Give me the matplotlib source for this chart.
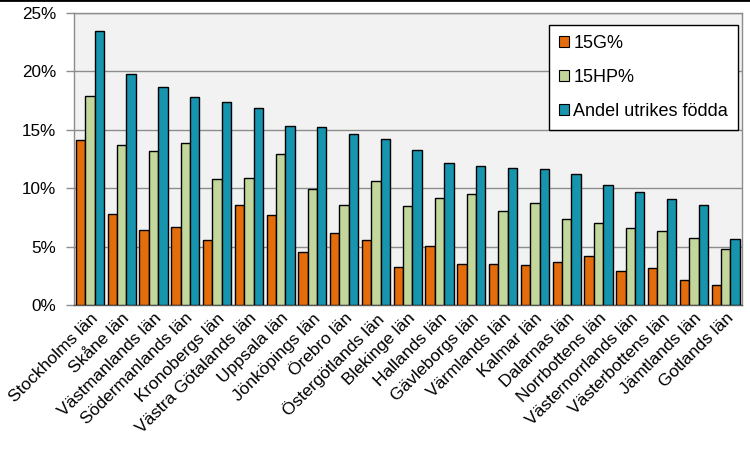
import matplotlib
matplotlib.use("Agg")
import matplotlib.pyplot as plt
import numpy as np
from matplotlib.ticker import FuncFormatter, MultipleLocator

plt.rcParams['font.family'] = ['Liberation Sans', 'DejaVu Sans']

categories = ["Stockholms län", "Skåne län", "Västmanlands län", "Södermanlands län",
              "Kronobergs län", "Västra Götalands län", "Uppsala län", "Jönköpings län",
              "Örebro län", "Östergötlands län", "Blekinge län", "Hallands län",
              "Gävleborgs län", "Värmlands län", "Kalmar län", "Dalarnas län",
              "Norrbottens län", "Västernorrlands län", "Västerbottens län",
              "Jämtlands län", "Gotlands län"]
g15 = [14.1, 7.77, 6.4, 6.66, 5.54, 8.54, 7.68, 4.51, 6.14, 5.54, 3.23, 5.03,
       3.49, 3.49, 3.4, 3.66, 4.17, 2.89, 3.14, 2.12, 1.69]
hp15 = [17.9, 13.68, 13.17, 13.85, 10.77, 10.86, 12.91, 9.91, 8.54, 10.6, 8.46, 9.14,
        9.49, 8.03, 8.71, 7.34, 7.0, 6.57, 6.31, 5.71, 4.77]
utrikes = [23.45, 19.77, 18.65, 17.8, 17.37, 16.85, 15.31, 15.23, 14.62, 14.2, 13.25,
           12.14, 11.88, 11.71, 11.63, 11.2, 10.26, 9.66, 9.06, 8.54, 5.63]
series_names = ["15G%", "15HP%", "Andel utrikes födda"]
colors = ["#E46C0A", "#C3D69B", "#1794AE"]

fig = plt.figure(figsize=(7.5, 4.51), dpi=100)
ax = fig.add_axes([74/750, 1 - 305/451, (741.5-74)/750, (305-13)/451])
ax.set_facecolor("#F2F2F2")

x = np.arange(len(categories))
w = 0.295
for i, (vals, name, c) in enumerate(zip([g15, hp15, utrikes], series_names, colors)):
    ax.bar(x + (i - 1) * w, vals, width=w, color=c, edgecolor="black",
           linewidth=1.0, label=name, zorder=3)

ax.set_xlim(-0.5, len(categories) - 0.5)
ax.set_ylim(0, 25)
ax.yaxis.set_major_locator(MultipleLocator(5))
ax.yaxis.set_major_formatter(FuncFormatter(lambda v, p: f"{v:.0f}%"))
ax.grid(axis="y", color="#8C8C8C", linewidth=1.0, zorder=0)
ax.set_axisbelow(True)

for s in ["left", "right", "top", "bottom"]:
    ax.spines[s].set_color("#8C8C8C")
    ax.spines[s].set_linewidth(1.0)
ax.spines["bottom"].set_color("#555555")

ax.tick_params(axis="y", length=6, width=1, color="#8C8C8C", labelsize=12.3, pad=7)
ax.tick_params(axis="x", length=0, labelsize=12.5, pad=4)
ax.set_xticks(x)
ax.set_xticklabels(categories, rotation=45, ha="right", rotation_mode="anchor")
for lbl in ax.get_xticklabels():
    lbl.set_x(lbl.get_position()[0])

leg = ax.legend(loc="upper right", bbox_to_anchor=(0.995, 0.959), fontsize=13,
                frameon=True, fancybox=False, edgecolor="black", framealpha=1,
                handlelength=0.55, handleheight=0.55, handletextpad=0.25,
                labelspacing=0.95, borderpad=0.55, borderaxespad=0)
leg.get_frame().set_linewidth(1.0)
for h in leg.legend_handles:
    h.set_linewidth(0.8)

fig.add_artist(plt.Line2D([0, 1], [0.999, 0.999], color="black", linewidth=2,
                          transform=fig.transFigure))

fig.savefig("out.png", dpi=100)
